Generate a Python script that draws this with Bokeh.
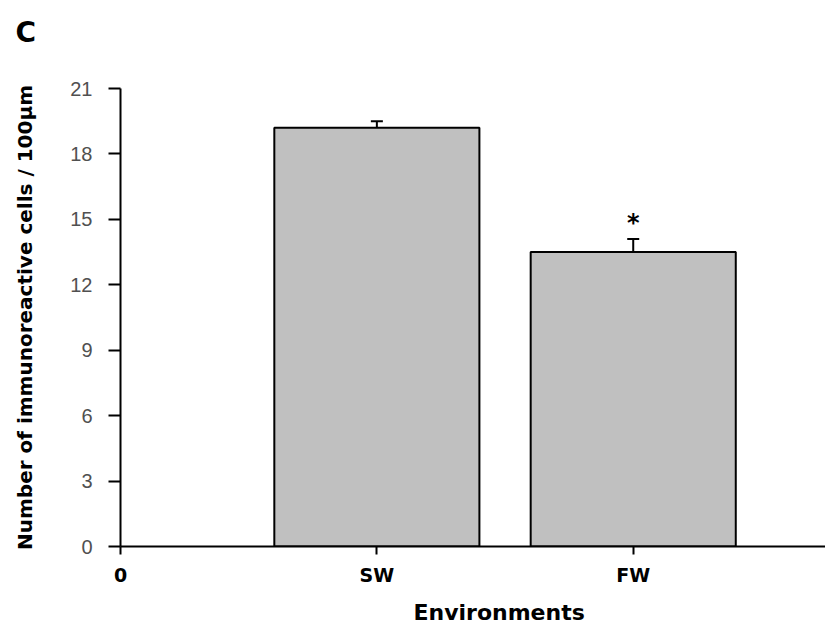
from bokeh.plotting import figure
from bokeh.models import FixedTicker, Range1d, Title, ColumnDataSource
from bokeh.core.properties import value
from bokeh.embed import file_html
from bokeh.resources import INLINE

# ---- data ----
categories = ["SW", "FW"]
positions = [1, 2]
means = [19.2, 13.5]
errors = [0.3, 0.6]
significant = [False, True]
y_ticks = [0, 3, 6, 9, 12, 15, 18, 21]
x_ticks = [0, 1, 2]
x_tick_labels = ["0"] + categories

FONT = "Liberation Sans"
BOLD = "DejaVu Sans"

p = figure(width=825, height=634, output_backend="svg", toolbar_location=None,
           x_range=Range1d(0, 2.75), y_range=Range1d(0, 21),
           min_border_left=120, min_border_top=88, min_border_bottom=86,
           min_border_right=0)
p.outline_line_color = None
p.grid.visible = False
p.background_fill_color = "white"
p.border_fill_color = "white"

tops = [m + e for m, e in zip(means, errors)]
src = ColumnDataSource(dict(x=positions, top=means, err_top=tops))

p.vbar(x="x", top="top", bottom=0, width=0.8, source=src,
       fill_color="#c0c0c0", line_color="black", line_width=2)
p.segment(x0="x", y0="top", x1="x", y1="err_top", source=src,
          line_color="black", line_width=2)
p.scatter(x="x", y="err_top", marker="dash", size=12, source=src,
          line_color="black", line_width=2)

star_x = [x for x, s in zip(positions, significant) if s]
star_y = [t + 0.75 for t, s in zip(tops, significant) if s]
p.text(x=star_x, y=star_y, text=["*"] * len(star_x), text_align="center",
       text_baseline="middle", text_font=value(BOLD), text_font_style="bold",
       text_font_size="24px", text_color="black")

# y axis
ya = p.yaxis[0]
ya.ticker = FixedTicker(ticks=y_ticks)
ya.axis_line_width = 2
ya.major_tick_line_width = 2
ya.major_tick_out = 12
ya.major_tick_in = 0
ya.minor_tick_line_color = None
ya.major_label_standoff = 16
ya.major_label_text_font = FONT
ya.major_label_text_font_size = "20px"
ya.major_label_text_color = "#505050"
ya.axis_label = "Number of immunoreactive cells / 100\u00b5m"
ya.axis_label_text_font = BOLD
ya.axis_label_text_font_style = "bold"
ya.axis_label_text_font_size = "20px"
ya.axis_label_text_color = "black"
ya.axis_label_standoff = 30

# x axis
xa = p.xaxis[0]
xa.ticker = FixedTicker(ticks=x_ticks)
xa.major_label_overrides = {t: lab for t, lab in zip(x_ticks, x_tick_labels)}
xa.axis_line_width = 2
xa.major_tick_line_width = 2
xa.major_tick_out = 8
xa.major_tick_in = 0
xa.minor_tick_line_color = None
xa.major_label_standoff = 9
xa.major_label_text_font = BOLD
xa.major_label_text_font_style = "bold"
xa.major_label_text_font_size = "19px"
xa.major_label_text_color = "black"
xa.axis_label = None

env = Title(text="Environments", align="left", offset=293, standoff=19,
            text_font=BOLD, text_font_style="bold", text_font_size="22px",
            text_color="black")
p.add_layout(env, "below")

spacer = Title(text=" ", align="left", standoff=5, text_font=BOLD,
               text_font_size="28px")
p.add_layout(spacer, "above")

panel = Title(text="C", align="left", offset=-105, standoff=0,
              text_font=BOLD, text_font_style="bold", text_font_size="28px",
              text_color="black")
p.add_layout(panel, "above")

open("out.html", "w").write(file_html(p, INLINE))
